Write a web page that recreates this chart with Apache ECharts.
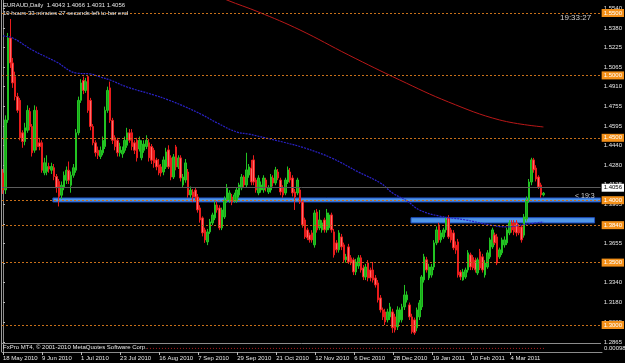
<!DOCTYPE html>
<html><head><meta charset="utf-8">
<script src="https://cdn.jsdelivr.net/npm/echarts@6/dist/echarts.min.js"></script>
<style>html,body{margin:0;padding:0;background:#000;}#c{width:625px;height:363px;}</style>
</head><body><div id="c"></div>
<script>
// ---- data ----
const openP = [
1.4218,1.4082,1.4643,1.5300,1.5100,1.4990,1.4830,1.4800,1.4540,1.4470,
1.4560,1.4710,1.4590,1.4400,1.4720,1.4460,1.4460,1.4220,1.4230,1.4270,
1.4240,1.4260,1.4190,1.4150,1.4040,1.4100,1.4160,1.4240,1.4120,1.4200,
1.4240,1.4540,1.4800,1.4960,1.4880,1.4990,1.4800,1.4590,1.4460,1.4400,
1.4350,1.4380,1.4430,1.4720,1.4900,1.4640,1.4500,1.4480,1.4380,1.4370,
1.4400,1.4440,1.4540,1.4540,1.4460,1.4480,1.4410,1.4340,1.4400,1.4430,
1.4460,1.4430,1.4400,1.4323,1.4283,1.4267,1.4226,1.4267,1.4403,1.4339,
1.4186,1.4427,1.4267,1.4339,1.4122,1.4162,1.4226,1.4042,1.4066,1.4082,
1.4026,1.3938,1.3858,1.3762,1.3666,1.3746,1.3818,1.3858,1.3962,1.3938,
1.3778,1.3866,1.4002,1.4002,1.4026,1.3994,1.4000,1.4042,1.4098,1.4186,
1.4122,1.4202,1.4258,1.4323,1.4162,1.4058,1.4082,1.4082,1.4162,1.4066,
1.4082,1.4178,1.4138,1.4226,1.4162,1.4098,1.4058,1.4146,1.4226,1.4178,
1.4066,1.4058,1.4082,1.3986,1.3842,1.3762,1.3722,1.3738,1.3642,1.3906,
1.3778,1.3762,1.3842,1.3762,1.3778,1.3882,1.3746,1.3658,1.3602,1.3706,
1.3642,1.3522,1.3626,1.3538,1.3522,1.3425,1.3473,1.3538,1.3457,1.3385,
1.3497,1.3441,1.3441,1.3377,1.3337,1.3217,1.3121,1.3105,1.3041,1.3065,
1.3105,1.3065,1.2985,1.3041,1.3041,1.3145,1.3201,1.3161,1.3065,1.3041,
1.2977,1.3065,1.3145,1.3361,1.3522,1.3377,1.3400,1.3465,1.3658,1.3802,
1.3682,1.3706,1.3762,1.3858,1.3762,1.3738,1.3640,1.3666,1.3425,1.3361,
1.3385,1.3441,1.3562,1.3540,1.3520,1.3417,1.3586,1.3546,1.3401,1.3465,
1.3546,1.3626,1.3722,1.3706,1.3546,1.3578,1.3642,1.3658,1.3738,1.3818,
1.3818,1.3818,1.3786,1.3786,1.3720,1.3850,1.4002,1.4146,1.4323,1.4258,
1.4186,1.4122,1.4043];
const highP = [
1.4250,1.4680,1.5340,1.5452,1.5140,1.5030,1.4860,1.4820,1.4560,1.4620,
1.4760,1.4740,1.4610,1.4760,1.4750,1.4500,1.4480,1.4340,1.4360,1.4300,
1.4300,1.4290,1.4210,1.4170,1.4150,1.4230,1.4270,1.4310,1.4230,1.4290,
1.4570,1.4830,1.4970,1.4990,1.4980,1.5003,1.4820,1.4610,1.4480,1.4430,
1.4430,1.4510,1.4750,1.4910,1.4950,1.4660,1.4520,1.4500,1.4460,1.4430,
1.4510,1.4580,1.4570,1.4570,1.4480,1.4500,1.4510,1.4480,1.4480,1.4520,
1.4490,1.4450,1.4420,1.4340,1.4330,1.4290,1.4350,1.4420,1.4440,1.4360,
1.4370,1.4443,1.4360,1.4360,1.4210,1.4330,1.4250,1.4110,1.4090,1.4100,
1.4050,1.3960,1.3870,1.3780,1.3770,1.3850,1.3900,1.3990,1.3990,1.3960,
1.3940,1.4030,1.4130,1.4080,1.4050,1.4060,1.4100,1.4140,1.4210,1.4200,
1.4380,1.4290,1.4323,1.4360,1.4180,1.4200,1.4150,1.4200,1.4180,1.4120,
1.4210,1.4200,1.4267,1.4250,1.4180,1.4120,1.4180,1.4270,1.4258,1.4200,
1.4090,1.4180,1.4106,1.4000,1.3860,1.3780,1.3740,1.3760,1.3920,1.3930,
1.3922,1.3840,1.3860,1.3930,1.3900,1.3900,1.3770,1.3680,1.3760,1.3730,
1.3660,1.3570,1.3650,1.3560,1.3540,1.3530,1.3560,1.3560,1.3480,1.3490,
1.3520,1.3460,1.3505,1.3400,1.3360,1.3240,1.3140,1.3130,1.3130,1.3177,
1.3130,1.3090,1.3150,1.3140,1.3170,1.3321,1.3270,1.3180,1.3090,1.3060,
1.3140,1.3200,1.3400,1.3570,1.3546,1.3490,1.3490,1.3680,1.3790,1.3820,
1.3760,1.3780,1.3860,1.3880,1.3780,1.3760,1.3670,1.3690,1.3440,1.3450,
1.3460,1.3600,1.3580,1.3560,1.3540,1.3540,1.3610,1.3570,1.3520,1.3600,
1.3700,1.3780,1.3740,1.3730,1.3620,1.3700,1.3710,1.3780,1.3840,1.3840,
1.3840,1.3840,1.3810,1.3800,1.3890,1.4030,1.4170,1.4340,1.4339,1.4280,
1.4200,1.4140,1.4066];
const lowP = [
1.4050,1.4050,1.4620,1.5060,1.4900,1.4800,1.4700,1.4480,1.4420,1.4440,
1.4540,1.4560,1.4350,1.4380,1.4400,1.4400,1.4220,1.4200,1.4200,1.4220,
1.4210,1.4160,1.4060,1.3950,1.4010,1.4080,1.4130,1.4130,1.4060,1.4180,
1.4220,1.4520,1.4780,1.4850,1.4860,1.4700,1.4560,1.4440,1.4350,1.4330,
1.4330,1.4360,1.4410,1.4700,1.4620,1.4450,1.4400,1.4350,1.4350,1.4340,
1.4380,1.4420,1.4460,1.4400,1.4370,1.4310,1.4390,1.4320,1.4380,1.4410,
1.4310,1.4290,1.4260,1.4240,1.4200,1.4190,1.4200,1.4250,1.4250,1.4160,
1.4170,1.4240,1.4250,1.4150,1.4100,1.4140,1.4020,1.4020,1.3986,1.4000,
1.3900,1.3820,1.3710,1.3658,1.3640,1.3730,1.3800,1.3840,1.3900,1.3760,
1.3760,1.3850,1.3980,1.3980,1.3960,1.3980,1.3980,1.4020,1.4080,1.4100,
1.4100,1.4180,1.4120,1.4120,1.4060,1.4040,1.4060,1.4060,1.4070,1.4050,
1.4060,1.4110,1.4120,1.4160,1.4040,1.4020,1.4040,1.4130,1.4140,1.4030,
1.3922,1.4040,1.3970,1.3780,1.3690,1.3680,1.3660,1.3660,1.3620,1.3740,
1.3760,1.3740,1.3740,1.3740,1.3760,1.3740,1.3540,1.3580,1.3580,1.3600,
1.3500,1.3500,1.3490,1.3480,1.3400,1.3400,1.3450,1.3420,1.3360,1.3360,
1.3350,1.3350,1.3340,1.3300,1.3180,1.3100,1.3040,1.3000,1.3020,1.3040,
1.2937,1.2940,1.2960,1.3020,1.3020,1.3120,1.3180,1.3040,1.2930,1.2921,
1.2950,1.3040,1.3120,1.3340,1.3420,1.3360,1.3380,1.3440,1.3640,1.3660,
1.3660,1.3690,1.3740,1.3690,1.3660,1.3600,1.3570,1.3380,1.3360,1.3355,
1.3370,1.3420,1.3440,1.3440,1.3420,1.3400,1.3440,1.3420,1.3380,1.3450,
1.3530,1.3610,1.3640,1.3480,1.3530,1.3560,1.3620,1.3640,1.3720,1.3740,
1.3720,1.3710,1.3720,1.3660,1.3700,1.3830,1.3980,1.4120,1.4220,1.4150,
1.4090,1.4020,1.4031];
const closeP = [
1.4082,1.4643,1.5300,1.5100,1.4940,1.4830,1.4720,1.4500,1.4470,1.4580,
1.4720,1.4590,1.4380,1.4720,1.4430,1.4430,1.4240,1.4300,1.4270,1.4250,
1.4270,1.4190,1.4100,1.4030,1.4120,1.4200,1.4240,1.4160,1.4200,1.4260,
1.4540,1.4800,1.4940,1.4880,1.4950,1.4720,1.4590,1.4460,1.4380,1.4360,
1.4400,1.4480,1.4720,1.4880,1.4640,1.4480,1.4430,1.4380,1.4430,1.4400,
1.4480,1.4540,1.4480,1.4430,1.4400,1.4340,1.4480,1.4450,1.4450,1.4480,
1.4340,1.4320,1.4300,1.4267,1.4218,1.4218,1.4323,1.4387,1.4267,1.4186,
1.4347,1.4267,1.4339,1.4178,1.4186,1.4299,1.4042,1.4082,1.4026,1.4026,
1.3922,1.3842,1.3738,1.3682,1.3746,1.3826,1.3882,1.3962,1.3922,1.3778,
1.3922,1.4002,1.4098,1.4058,1.3986,1.4042,1.4082,1.4122,1.4186,1.4122,
1.4243,1.4267,1.4146,1.4146,1.4082,1.4178,1.4122,1.4178,1.4098,1.4098,
1.4186,1.4138,1.4243,1.4178,1.4066,1.4042,1.4162,1.4243,1.4162,1.4058,
1.4026,1.4162,1.3986,1.3802,1.3706,1.3698,1.3682,1.3682,1.3898,1.3762,
1.3842,1.3818,1.3762,1.3898,1.3882,1.3762,1.3562,1.3602,1.3738,1.3626,
1.3522,1.3546,1.3505,1.3497,1.3425,1.3505,1.3538,1.3441,1.3385,1.3465,
1.3377,1.3377,1.3361,1.3321,1.3201,1.3121,1.3065,1.3025,1.3105,1.3145,
1.2977,1.2961,1.3121,1.3121,1.3145,1.3241,1.3241,1.3065,1.2945,1.2937,
1.3121,1.3177,1.3385,1.3546,1.3441,1.3465,1.3465,1.3658,1.3762,1.3682,
1.3738,1.3762,1.3842,1.3706,1.3682,1.3618,1.3600,1.3401,1.3385,1.3425,
1.3441,1.3578,1.3465,1.3457,1.3441,1.3522,1.3457,1.3441,1.3497,1.3578,
1.3682,1.3762,1.3658,1.3497,1.3602,1.3682,1.3682,1.3762,1.3818,1.3762,
1.3746,1.3738,1.3738,1.3682,1.3866,1.4002,1.4146,1.4323,1.4243,1.4170,
1.4106,1.4043,1.4056];

const dateLabels = ['18 May 2010','9 Jun 2010','1 Jul 2010','23 Jul 2010','16 Aug 2010','7 Sep 2010','29 Sep 2010','21 Oct 2010','12 Nov 2010','6 Dec 2010','28 Dec 2010','19 Jan 2011','10 Feb 2011','4 Mar 2011'];
const dateTickIdx = [0,16,32,48,64,80,96,112,128,144,160,176,192,208];
const priceTicks = [1.5540,1.5380,1.5225,1.5065,1.4910,1.4755,1.4595,1.4440,1.4280,1.4125,1.3965,1.3810,1.3655,1.3495,1.3340,1.3180,1.3025,1.2865];
const levelLines = [1.5500,1.5000,1.4500,1.4000,1.3840,1.3500,1.3000];
const bidPrice = 1.4056;

const blueMaIdx = [0,4,12,22,30,36,40,44,51,62,68,75,82,88,96,101,108,115,124,135,146,155,160,166,171,179,190,200,207,213,222];
const blueMaVal = [1.5316,1.5300,1.5204,1.5107,1.5019,1.5011,1.4987,1.4963,1.4907,1.4843,1.4803,1.4747,1.4683,1.4619,1.4546,1.4530,1.4498,1.4466,1.4418,1.4338,1.4226,1.4138,1.4058,1.3994,1.3922,1.3874,1.3842,1.3802,1.3786,1.3802,1.3826];
const redMaIdx = [87,92,105,122,142,163,183,204,222];
const redMaVal = [1.5652,1.5604,1.5508,1.5364,1.5163,1.4963,1.4787,1.4643,1.4587];

// rectangles (bar index from/to, price top/bottom)
const zones = [[20.5,1.4018,245.5,1.3986],[167.6,1.3860,243,1.3818]];

const FONT = 'Liberation Sans';
const TXT = '#e6e6e6';

const chart = echarts.init(document.getElementById('c'), null, {renderer:'canvas'});
const candleData = closeP.map((c,i)=>[i, openP[i], c, lowP[i], highP[i]]);

const markLineData = levelLines.map(v=>({yAxis:v, name:v.toFixed(4)}));
markLineData.push({yAxis:bidPrice, name:bidPrice.toFixed(4), lineStyle:{color:'#5c5c5c',type:'solid',width:1},
  label:{backgroundColor:'#ffffff',color:'#000000'}});

const option = {
  backgroundColor:'#000000',
  animation:false,
  grid:[{left:2,top:0,width:600,height:343},{left:2,top:344,width:600,height:8}],
  xAxis:[
    {gridIndex:0,type:'value',min:-0.4,max:245.5,
     axisLine:{show:true,onZero:false,lineStyle:{color:'#8c8c8c'}},
     axisTick:{show:false},axisLabel:{show:false},splitLine:{show:false}},
    {gridIndex:1,type:'value',min:-0.4,max:245.5,
     axisLine:{show:true,onZero:false,lineStyle:{color:'#8c8c8c'}},
     axisTick:{show:true,customValues:dateTickIdx,length:3,lineStyle:{color:'#bbbbbb'}},
     axisLabel:{customValues:dateTickIdx,formatter:(v)=>{const k=dateTickIdx.indexOf(Math.round(v));return k>=0?dateLabels[k]:'';},
       color:TXT,fontSize:6,fontFamily:FONT,align:'left',margin:3},
     splitLine:{show:false}}
  ],
  yAxis:[
    {gridIndex:0,type:'value',position:'right',min:1.28558,max:1.56042,
     axisLine:{show:true,lineStyle:{color:'#8c8c8c'}},
     axisTick:{show:true,customValues:priceTicks,length:2,lineStyle:{color:'#bbbbbb'}},
     axisLabel:{customValues:priceTicks,formatter:v=>v.toFixed(4),color:TXT,fontSize:6,fontFamily:FONT,margin:3},
     splitLine:{show:false}},
    {gridIndex:1,type:'value',position:'right',min:0,max:1,
     axisLine:{show:true,lineStyle:{color:'#8c8c8c'}},
     axisTick:{show:false},axisLabel:{show:false},splitLine:{show:false}}
  ],
  series:[
    {type:'candlestick',name:'EURAUD',xAxisIndex:0,yAxisIndex:0,z:2,
     dimensions:['idx','open','close','lowest','highest'],
     encode:{x:'idx',y:['open','close','lowest','highest']},
     data:candleData,barWidth:2,
     itemStyle:{color:'#1aa51a',color0:'#ff6e6e',borderColor:'#22c422',borderColor0:'#e81c1c',borderWidth:1},
     markLine:{silent:true,symbol:['none','none'],animation:false,
       lineStyle:{color:'#c8701a',type:[2,2],width:1},
       label:{position:'end',distance:1,formatter:p=>p.name,
         backgroundColor:'#f39019',color:'#ffffff',fontSize:6,fontFamily:FONT,padding:[1,2,1,2]},
       data:markLineData}
    },
    {type:'line',name:'MA blue',xAxisIndex:0,yAxisIndex:0,z:3,
     data:blueMaIdx.map((x,k)=>[x,blueMaVal[k]]),showSymbol:false,smooth:0.4,
     lineStyle:{color:'#2a22c8',width:1.2,type:[2,1]}},
    {type:'line',name:'MA red',xAxisIndex:0,yAxisIndex:0,z:3,
     data:redMaIdx.map((x,k)=>[x,redMaVal[k]]),showSymbol:false,smooth:0.4,
     lineStyle:{color:'#b81818',width:1}},
    {type:'line',name:'zones',xAxisIndex:0,yAxisIndex:0,z:6,data:[],
     markArea:{silent:true,
       itemStyle:{color:'#4f96e8',borderColor:'#1f4fc0',borderWidth:1},
       data:zones.map(z=>[{coord:[z[0],z[1]]},{coord:[z[2],z[3]]}])}},
    {type:'line',name:'ind',xAxisIndex:1,yAxisIndex:1,z:3,
     data:[[59,0.45],[222,0.45]],showSymbol:false,
     lineStyle:{color:'#b02020',width:1,type:[1,2]}}
  ],
  graphic:[
    {type:'line',shape:{x1:1.5,y1:0,x2:1.5,y2:352},style:{stroke:'#9a9a9a',lineWidth:1},z:10},
    {type:'text',left:3,top:2,style:{text:'EURAUD,Daily  1.4043 1.4066 1.4031 1.4056',fill:TXT,font:'6px "Liberation Sans"'},z:10},
    {type:'text',left:3,top:10,style:{text:'19 hours 33 minutes 27 seconds left to bar end',fill:TXT,font:'6px "Liberation Sans"'},z:10},
    {type:'text',left:560,top:14,style:{text:'19:33:27',fill:'#d0d0d0',font:'8px "Liberation Sans"'},z:10},
    {type:'text',left:575,top:193,style:{text:'< 19:3',fill:'#d0d0d0',font:'7px "Liberation Sans"'},z:10},
    {type:'text',left:3,top:344,style:{text:'FxPro MT4, © 2001-2010 MetaQuotes Software Corp.',fill:TXT,font:'6px "Liberation Sans"'},z:10},
    {type:'text',left:604,top:345,style:{text:'0.000985',fill:TXT,font:'6px "Liberation Sans"'},z:10}
  ]
};
chart.setOption(option);
</script>
</body></html>
